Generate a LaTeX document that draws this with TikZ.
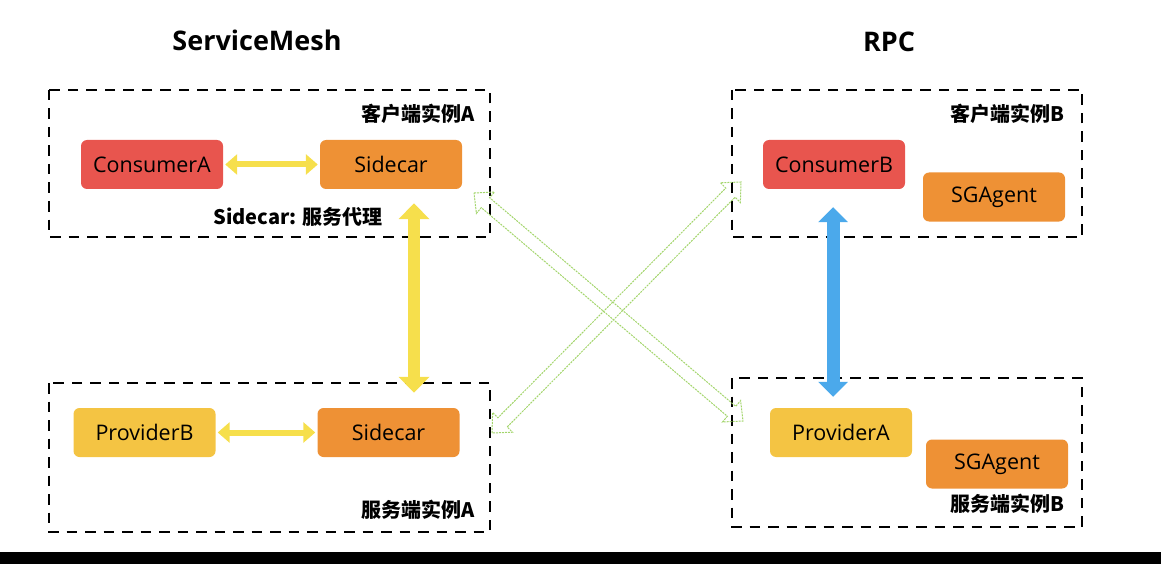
\documentclass[tikz,border=0pt]{standalone}
\usepackage{fontspec}
\setmainfont{Open Sans}
\newfontfamily\cjk{Noto Sans CJK SC}
\usetikzlibrary{arrows.meta,calc}
\definecolor{consumer}{HTML}{E8554E}
\definecolor{sidecar}{HTML}{EE9135}
\definecolor{provider}{HTML}{F4C443}
\definecolor{pipeyellow}{HTML}{F6DF4C}
\definecolor{pipeblue}{HTML}{4BA9EB}
\definecolor{linkgreen}{HTML}{A3D56C}

\begin{document}
\begin{tikzpicture}[x=1pt, y=-1pt,
    instance/.style ={draw, line width=2.8pt, dash pattern=on 10.5pt off 8pt},
    service/.style ={rounded corners=6pt, minimum width=142pt, minimum height=49pt,
        inner sep=0pt, font=\fontsize{21.5}{24}\selectfont},
    tag/.style ={anchor=east, inner sep=0pt, font=\cjk\bfseries\fontsize{20}{22}\selectfont},
    heading/.style ={font=\bfseries\fontsize{27}{30}\selectfont},
    pipe/.style ={draw=pipeyellow, line width=6pt, shorten <=2pt, shorten >=2pt,
        {Triangle[width=20pt,length=12pt]}-{Triangle[width=20pt,length=12pt]}},
    hollow/.style ={draw=linkgreen, line width=1pt, dash pattern=on 2pt off 1pt}]
   \useasboundingbox (0,0) rectangle (1161,564);

   % titles
   \node[heading] (M) at (257,40) {ServiceMesh};
   \node[heading] (R) at (889,42) {RPC};

   % instances
   \draw[instance] (49,90) rectangle (490,237);
   \draw[instance] (49,383) rectangle (490,532);
   \draw[instance] (732,90) rectangle (1082,237);
   \draw[instance] (732,378) rectangle (1082,527);

   \node[tag] (TA) at (475,114) {客户端实例A};
   \node[tag] (TB) at (475,510) {服务端实例A};
   \node[tag] (TC) at (1065,114) {客户端实例B};
   \node[tag] (TD) at (1065,504) {服务端实例B};
   \node[tag, anchor=center] (TS) at (298,217) {Sidecar: 服务代理};

   % services
   \node[service, fill=consumer] (CA) at (152,164.5) {ConsumerA};
   \node[service, fill=sidecar] (SA) at (391,164.5) {Sidecar};
   \node[service, fill=provider] (PB) at (144.5,432.5) {ProviderB};
   \node[service, fill=sidecar] (SB) at (388.5,432.5) {Sidecar};
   \node[service, fill=consumer] (CB) at (834,164.5) {ConsumerB};
   \node[service, fill=sidecar] (GA) at (994,197) {SGAgent};
   \node[service, fill=provider] (PA) at (841,432.5) {ProviderA};
   \node[service, fill=sidecar] (GB) at (997,464) {SGAgent};

   \draw[pipe] (CA) -- (SA);
   \draw[pipe] (PB) -- (SB);
   \draw[pipe, line width=12pt, arrows={Triangle[width=30pt,length=16pt]-Triangle[width=30pt,length=16pt]}]
      ($(SA.south)+(23,12)$) -- ($(SB.north)+(25.5,-13)$);
   \draw[pipe, draw=pipeblue, line width=13pt, arrows={Triangle[width=29pt,length=15pt]-Triangle[width=29pt,length=15pt]}]
      ($(CB.south)+(-1,16)$) -- ($(CB.south |- PA.north)+(-1,-9)$);

   % crossing links
   \coordinate (P) at (474,193);
   \coordinate (Q) at (743,421);
   \coordinate (U) at (492,433);
   \coordinate (V) at (741,182);
   \draw[hollow] (P) -- ($(P)!15pt!(Q)!14pt!90:(Q)$) -- ($(P)!15pt!(Q)!6.5pt!90:(Q)$)
      -- ($(Q)!15pt!(P)!6.5pt!-90:(P)$) -- ($(Q)!15pt!(P)!14pt!-90:(P)$) -- (Q)
      -- ($(Q)!15pt!(P)!14pt!90:(P)$) -- ($(Q)!15pt!(P)!6.5pt!90:(P)$)
      -- ($(P)!15pt!(Q)!6.5pt!-90:(Q)$) -- ($(P)!15pt!(Q)!14pt!-90:(Q)$) -- cycle;
   \draw[hollow] (U) -- ($(U)!15pt!(V)!14pt!90:(V)$) -- ($(U)!15pt!(V)!6.5pt!90:(V)$)
      -- ($(V)!15pt!(U)!6.5pt!-90:(U)$) -- ($(V)!15pt!(U)!14pt!-90:(U)$) -- (V)
      -- ($(V)!15pt!(U)!14pt!90:(U)$) -- ($(V)!15pt!(U)!6.5pt!90:(U)$)
      -- ($(U)!15pt!(V)!6.5pt!-90:(V)$) -- ($(U)!15pt!(V)!14pt!-90:(V)$) -- cycle;

   \fill (0,552) rectangle (1161,564);
 \end{tikzpicture}
\end{document}
